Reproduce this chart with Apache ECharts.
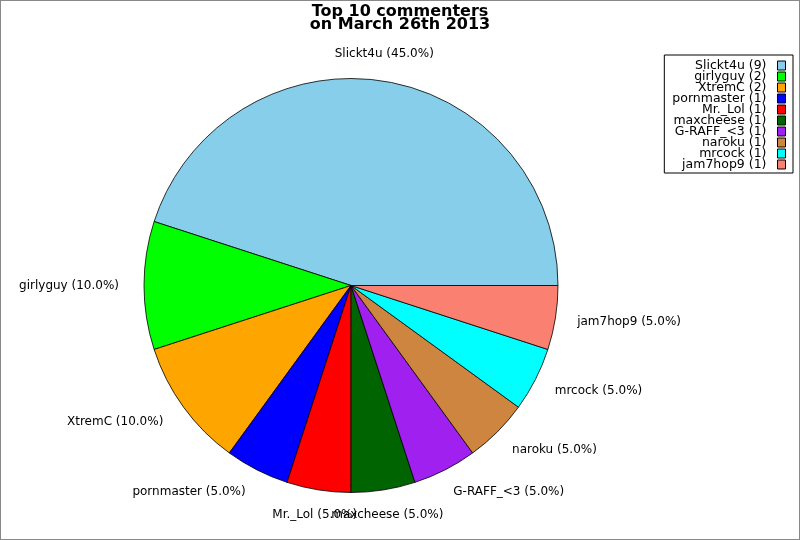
<!DOCTYPE html>
<html>
<head>
<meta charset="utf-8">
<script src="https://cdn.jsdelivr.net/npm/echarts@6/dist/echarts.min.js"></script>
<style>
html,body{margin:0;padding:0;background:#fff;}
#wrap{position:relative;width:800px;height:540px;}
#chart{position:absolute;left:0;top:0;width:800px;height:540px;}
#frame{position:absolute;left:0;top:0;width:800px;height:540px;box-sizing:border-box;border:1px solid #888;pointer-events:none;}
</style>
</head>
<body>
<div id="wrap"><div id="chart"></div><div id="frame"></div></div>
<script>
var titleLines = ['Top 10 commenters', 'on March 26th 2013'];
var names = ['Slickt4u', 'girlyguy', 'XtremC', 'pornmaster', 'Mr._Lol', 'maxcheese', 'G-RAFF_<3', 'naroku', 'mrcock', 'jam7hop9'];
var counts = [9, 2, 2, 1, 1, 1, 1, 1, 1, 1];
var colors = ['#87CEEB', '#00FF00', '#FFA500', '#0000FF', '#FF0000', '#006400', '#A020F0', '#CD853F', '#00FFFF', '#FA8072'];

var total = counts.reduce(function (a, b) { return a + b; }, 0);
var cum = 0;
var labelSide = counts.map(function (v) {
  var mid = (cum + v / 2) / total * 2 * Math.PI;
  cum += v;
  var c = Math.cos(mid), s = Math.sin(mid);
  if (Math.abs(c) < 0.3) return s > 0 ? 'top' : 'bottom';
  return c > 0 ? 'right' : 'left';
});

var data = names.map(function (n, i) {
  return { name: n, value: counts[i], itemStyle: { color: colors[i] } };
});

var chart = echarts.init(document.getElementById('chart'));
chart.setOption({
  animation: false,
  backgroundColor: '#fff',
  textStyle: { fontFamily: 'DejaVu Sans' },
  title: {
    text: titleLines.join('\n'),
    left: 'center',
    top: 5,
    padding: 0,
    textStyle: { fontFamily: 'DejaVu Sans', fontWeight: 'bold', fontSize: 16, lineHeight: 13.5, color: '#000' }
  },
  legend: {
    orient: 'vertical',
    right: 7,
    top: 55,
    align: 'right',
    padding: [4, 7, 2, 8],
    itemGap: -2,
    itemWidth: 8,
    itemHeight: 9,
    icon: 'rect',
    borderColor: '#000',
    borderWidth: 1,
    borderRadius: 0,
    backgroundColor: '#fff',
    selectedMode: false,
    itemStyle: { borderColor: '#000', borderWidth: 1 },
    textStyle: { fontFamily: 'DejaVu Sans', fontSize: 12.5, color: '#000', padding: [0, 6, 0, 0] },
    formatter: function (n) {
      return n + ' (' + counts[names.indexOf(n)] + ')';
    },
    data: names
  },
  series: [{
    type: 'pie',
    center: [351, 285.5],
    radius: 207,
    startAngle: 0,
    clockwise: false,
    avoidLabelOverlap: false,
    minShowLabelAngle: 0,
    itemStyle: { borderColor: '#000', borderWidth: 0.8 },
    emphasis: { disabled: true },
    label: {
      show: true,
      position: 'outside',
      fontFamily: 'DejaVu Sans',
      fontSize: 12,
      color: '#000',
      distanceToLabelLine: 0,
      formatter: function (p) {
        return p.name + ' (' + (p.value / total * 100).toFixed(1) + '%)';
      }
    },
    labelLine: { show: false, length: 25, length2: 0 },
    labelLayout: function (p) {
      var side = labelSide[p.dataIndex];
      if (side === 'top') return { align: 'center', dx: -3, dy: -2, hideOverlap: false };
      if (side === 'bottom') return { align: 'center', hideOverlap: false };
      if (side === 'right') return { dx: -3, hideOverlap: false };
      return { hideOverlap: false };
    },
    data: data
  }]
});
</script>
</body>
</html>
